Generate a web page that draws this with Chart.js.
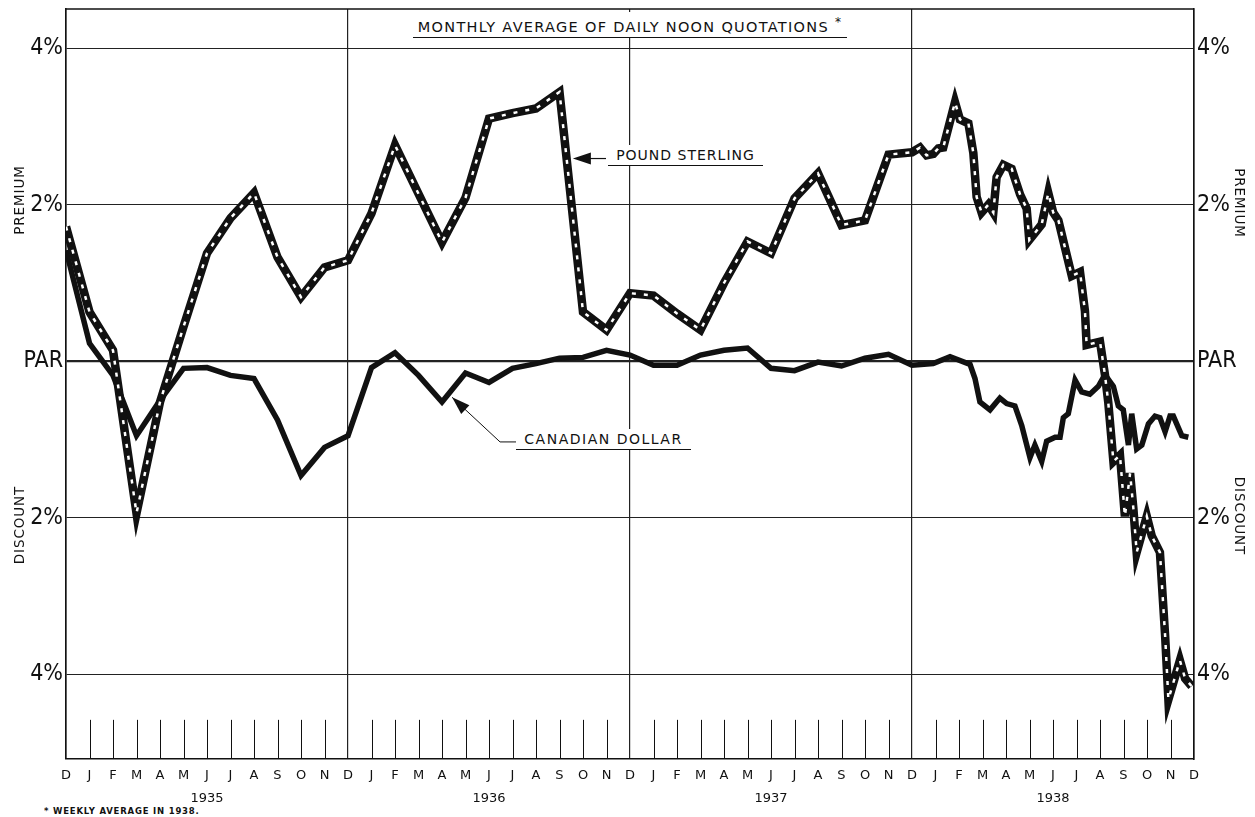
<!DOCTYPE html>
<html>
<head>
<meta charset="utf-8">
<title>Pound Sterling and Canadian Dollar, 1935-1938</title>
<script src="https://cdn.jsdelivr.net/npm/chart.js@4.4.0/dist/chart.umd.min.js"></script>
<style>
  html, body { margin: 0; padding: 0; background: #fff; }
  #wrap { position: relative; width: 1255px; height: 817px; overflow: hidden; }
  #chart { position: absolute; left: 0; top: 0; }
  .lbl { position: absolute; font-family: "DejaVu Sans", sans-serif; color: #111; white-space: nowrap; background: #fff; }
  .boxed { border-bottom: 1.6px solid #111; text-align: center; line-height: 20px; }
  .side { position: absolute; font-family: "DejaVu Sans", sans-serif; font-size: 13.5px; letter-spacing: 0.9px; color: #111; white-space: nowrap; }
</style>
</head>
<body>
<div id="wrap">
  <canvas id="chart" width="1255" height="817"></canvas>
  <div class="lbl boxed" style="left:413px; top:12px; width:434px; font-size:14.5px; letter-spacing:1.3px;">MONTHLY AVERAGE OF DAILY NOON QUOTATIONS <sup style="font-size:12px">*</sup></div>
  <div class="lbl boxed" style="left:608px; top:145px; width:155px; font-size:14px; letter-spacing:1px;">POUND STERLING</div>
  <div class="lbl boxed" style="left:516px; top:429px; width:175px; font-size:14px; letter-spacing:1.5px;">CANADIAN DOLLAR</div>
  <div class="side" style="left:19px; top:200px; transform: translate(-50%,-50%) rotate(-90deg);">PREMIUM</div>
  <div class="side" style="left:19px; top:525px; transform: translate(-50%,-50%) rotate(-90deg);">DISCOUNT</div>
  <div class="side" style="left:1240px; top:203px; transform: translate(-50%,-50%) rotate(90deg);">PREMIUM</div>
  <div class="side" style="left:1240px; top:516px; transform: translate(-50%,-50%) rotate(90deg);">DISCOUNT</div>
  <div class="lbl" style="left:44px; top:806px; font-size:8.5px; font-weight:bold; letter-spacing:0.8px;">* WEEKLY AVERAGE IN 1938.</div>
</div>
<script>
// months counted from December 1934 (0) to December 1938 (48)
const monthLetters = ['D', 'J', 'F', 'M', 'A', 'M', 'J', 'J', 'A', 'S', 'O', 'N'];
const yearLabels = ['1935', '1936', '1937', '1938'];
const yTicks = [4, 2, 0, -2, -4];
const yTickText = ['4%', '2%', 'PAR', '2%', '4%'];

// monthly averages, Dec 1934 .. Dec 1937 (percent premium +, discount -)
const poundMonthly = [
    1.72, 0.63, 0.14, -1.94, -0.52, 0.44, 1.38, 1.83, 2.15, 1.33, 0.82, 1.20,
    1.29, 1.89, 2.76, 2.14, 1.52, 2.09, 3.10, 3.17, 3.23, 3.44, 0.63, 0.40,
    0.87, 0.84, 0.61, 0.40, 1.00, 1.53, 1.38, 2.08, 2.40, 1.74, 1.80, 2.64,
    2.67
];
const canadianMonthly = [
    1.42, 0.23, -0.18, -0.95, -0.50, -0.09, -0.08, -0.18, -0.22, -0.75, -1.46, -1.10,
    -0.95, -0.08, 0.11, -0.18, -0.52, -0.15, -0.27, -0.09, -0.03, 0.04, 0.05, 0.14,
    0.08, -0.05, -0.05, 0.08, 0.14, 0.17, -0.09, -0.12, -0.01, -0.06, 0.04, 0.09,
    -0.05
];

// weekly averages in 1938 (position in months, value)
const poundWeekPos = [
    36.34, 36.62, 36.91, 37.12, 37.33, 37.83, 38.04, 38.40, 38.61, 38.75, 38.96, 39.25,
    39.46, 39.60, 39.89, 40.24, 40.60, 40.88, 40.99, 41.31, 41.52, 41.80, 42.01, 42.23,
    42.51, 42.80, 43.15, 43.36, 43.43, 44.00, 44.21, 44.35, 44.57, 44.85, 45.06, 45.28,
    45.42, 45.56, 45.99, 46.20, 46.55, 46.77, 46.91, 47.40, 47.62, 47.90
];
const poundWeekVal = [
    2.73, 2.63, 2.65, 2.72, 2.73, 3.31, 3.09, 3.04, 2.66, 2.10, 1.90, 2.00,
    1.90, 2.35, 2.51, 2.46, 2.13, 1.95, 1.55, 1.67, 1.75, 2.15, 1.90, 1.80,
    1.45, 1.09, 1.14, 0.64, 0.21, 0.25, -0.17, -0.52, -1.28, -1.20, -1.98, -1.43,
    -1.88, -2.44, -1.98, -2.23, -2.44, -3.50, -4.32, -3.82, -4.05, -4.15
];
const canadianWeekPos = [
    36.90, 37.62, 38.47, 38.68, 38.89, 39.32, 39.74, 40.03, 40.38, 40.67, 41.02, 41.23,
    41.52, 41.73, 42.09, 42.30, 42.44, 42.65, 42.94, 43.22, 43.57, 43.93, 44.21, 44.57,
    44.78, 44.99, 45.21, 45.35, 45.56, 45.78, 46.06, 46.34, 46.55, 46.77, 46.98, 47.12,
    47.48, 47.76
];
const canadianWeekVal = [
    -0.03, 0.06, -0.04, -0.22, -0.52, -0.62, -0.47, -0.54, -0.57, -0.82, -1.23, -1.07,
    -1.28, -1.02, -0.97, -0.97, -0.72, -0.67, -0.24, -0.39, -0.42, -0.32, -0.17, -0.32,
    -0.57, -0.62, -1.07, -0.67, -1.12, -1.07, -0.80, -0.70, -0.72, -0.90, -0.70, -0.70,
    -0.95, -0.97
];

// label arrows, in (month, percent) space
const poundArrow = { tip: [21.57, 2.59], tail: [22.98, 2.59] };
const canadianArrow = { tip: [16.43, -0.46], elbow: [18.47, -1.03], tail: [19.15, -1.03] };
const MONTH_TICK_TOP = -4.58;

function series(monthly, weekPos, weekVal) {
    const pts = monthly.map((v, i) => ({ x: i, y: v }));
    weekPos.forEach((p, k) => pts.push({ x: p, y: weekVal[k] }));
    return pts;
}

const poundData = series(poundMonthly, poundWeekPos, poundWeekVal);
const canadianData = series(canadianMonthly, canadianWeekPos, canadianWeekVal);

const INK = '#111';

function arrowHead(ctx, fx, fy, tx, ty, len, half) {
    const ang = Math.atan2(ty - fy, tx - fx);
    ctx.beginPath();
    ctx.moveTo(tx, ty);
    ctx.lineTo(tx - len * Math.cos(ang) + half * Math.sin(ang), ty - len * Math.sin(ang) - half * Math.cos(ang));
    ctx.lineTo(tx - len * Math.cos(ang) - half * Math.sin(ang), ty - len * Math.sin(ang) + half * Math.cos(ang));
    ctx.closePath();
    ctx.fill();
}

const framePlugin = {
    id: 'frame',
    beforeDatasetsDraw(chart) {
        const { ctx, chartArea: a, scales: { x, y } } = chart;
        ctx.save();
        ctx.strokeStyle = INK;
        ctx.lineWidth = 1.6;
        ctx.beginPath();
        ctx.moveTo(a.left, a.top);
        ctx.lineTo(a.right, a.top);
        ctx.stroke();
        // short month ticks along the bottom
        ctx.lineWidth = 1;
        const top = y.getPixelForValue(MONTH_TICK_TOP);
        for (let i = 1; i < 48; i++) {
            if (i % 12 === 0) continue;
            const px = Math.round(x.getPixelForValue(i)) + 0.5;
            ctx.beginPath();
            ctx.moveTo(px, top);
            ctx.lineTo(px, a.bottom);
            ctx.stroke();
        }
        ctx.restore();
        // keep the sharp corners from spiking too far
        ctx.miterLimit = 6;
    },
    afterDatasetsDraw(chart) {
        const { ctx, scales: { x, y } } = chart;
        ctx.miterLimit = 10;
        const P = p => [x.getPixelForValue(p[0]), y.getPixelForValue(p[1])];
        ctx.save();
        ctx.strokeStyle = INK;
        ctx.fillStyle = INK;
        ctx.lineWidth = 1.2;

        // pound sterling pointer
        const pt = P(poundArrow.tip), pa = P(poundArrow.tail);
        ctx.beginPath();
        ctx.moveTo(pa[0], pa[1]);
        ctx.lineTo(pt[0] + 14, pt[1]);
        ctx.stroke();
        arrowHead(ctx, pa[0], pa[1], pt[0], pt[1], 18, 6);

        // canadian dollar pointer
        const ct = P(canadianArrow.tip), ce = P(canadianArrow.elbow), ca = P(canadianArrow.tail);
        ctx.lineWidth = 1;
        ctx.beginPath();
        ctx.moveTo(ca[0], ca[1]);
        ctx.lineTo(ce[0], ce[1]);
        ctx.lineTo(ct[0], ct[1]);
        ctx.stroke();
        arrowHead(ctx, ce[0], ce[1], ct[0], ct[1], 18, 6);
        ctx.restore();
    }
};

const yTickOptions = {
    color: INK,
    padding: 3,
    font: { family: '"Liberation Sans Narrow", "DejaVu Sans Condensed", Roboto, sans-serif', size: 23 },
    callback: v => yTickText[yTicks.indexOf(v)]
};

function fixY(width) {
    return s => {
        s.width = width;
        s.paddingTop = 0;
        s.paddingBottom = 0;
    };
}

new Chart(document.getElementById('chart'), {
    type: 'line',
    data: {
        datasets: [
            {
                label: 'Canadian Dollar',
                data: canadianData,
                borderColor: INK,
                borderWidth: 5.5,
                borderJoinStyle: 'miter',
                pointRadius: 0,
                tension: 0,
                order: 3
            },
            {
                label: 'Pound Sterling',
                data: poundData,
                borderColor: INK,
                borderWidth: 8.5,
                borderJoinStyle: 'miter',
                pointRadius: 0,
                tension: 0,
                order: 2
            },
            {
                label: 'Pound Sterling (inner)',
                data: poundData,
                borderColor: '#fff',
                borderWidth: 2.5,
                borderDash: [4, 8],
                borderJoinStyle: 'miter',
                pointRadius: 0,
                tension: 0,
                order: 1
            }
        ]
    },
    options: {
        responsive: false,
        animation: false,
        layout: { padding: { top: 9, left: 0, right: 0, bottom: 0 } },
        plugins: {
            legend: { display: false },
            tooltip: { enabled: false }
        },
        scales: {
            x: {
                type: 'linear',
                min: 0,
                max: 48,
                ticks: {
                    stepSize: 1,
                    autoSkip: false,
                    maxRotation: 0,
                    padding: 5,
                    color: INK,
                    font: { family: '"DejaVu Sans", sans-serif', size: 13, lineHeight: 1.75 },
                    callback: v => {
                        const i = Math.round(v);
                        const letter = monthLetters[i % 12];
                        if (i % 12 === 6) return [letter, yearLabels[(i - 6) / 12]];
                        return letter;
                    }
                },
                grid: {
                    drawTicks: false,
                    color: ctx => (ctx.tick && ctx.tick.value % 12 === 0) ? '#222' : 'rgba(0,0,0,0)',
                    lineWidth: 1.2
                },
                border: { display: true, color: INK, width: 1.6 },
                afterFit: s => { s.height = 58; }
            },
            y: {
                type: 'linear',
                position: 'left',
                min: -5.08,
                max: 4.5,
                afterBuildTicks: s => { s.ticks = yTicks.map(v => ({ value: v })); },
                ticks: yTickOptions,
                grid: {
                    drawTicks: false,
                    color: '#222',
                    lineWidth: ctx => (ctx.tick && ctx.tick.value === 0) ? 2.2 : 1.1
                },
                border: { display: true, color: INK, width: 1.6 },
                afterFit: fixY(66)
            },
            y2: {
                axis: 'y',
                type: 'linear',
                position: 'right',
                min: -5.08,
                max: 4.5,
                afterBuildTicks: s => { s.ticks = yTicks.map(v => ({ value: v })); },
                ticks: yTickOptions,
                grid: { display: false, drawTicks: false },
                border: { display: true, color: INK, width: 1.6 },
                afterFit: fixY(61)
            }
        }
    },
    plugins: [framePlugin]
});
</script>
</body>
</html>
